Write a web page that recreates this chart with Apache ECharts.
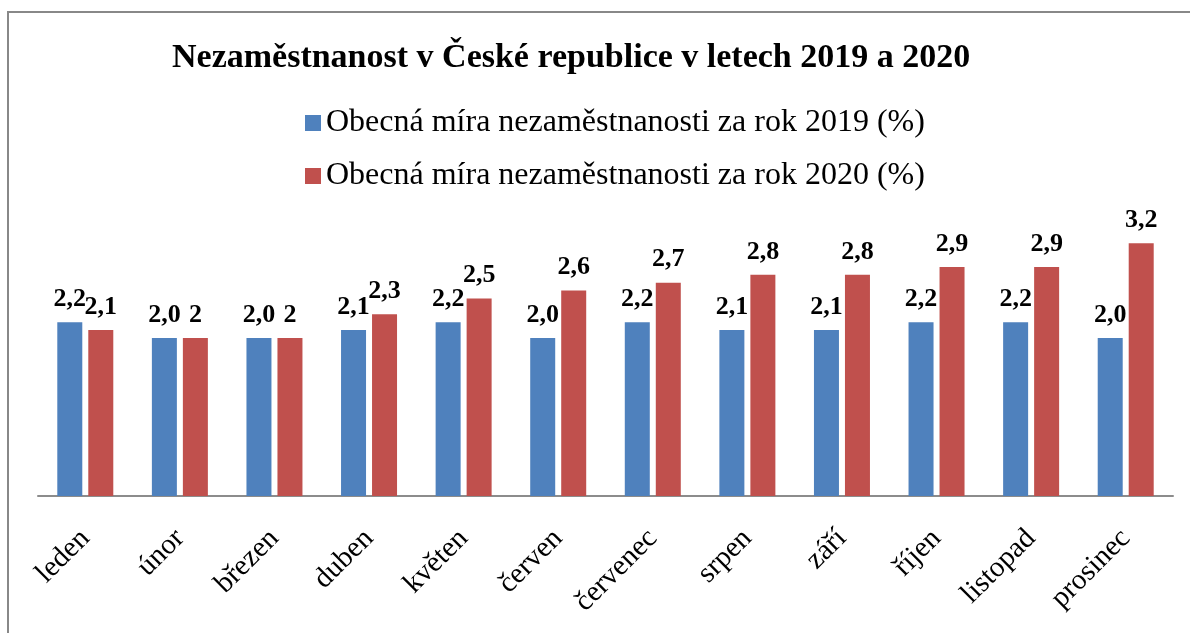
<!DOCTYPE html>
<html>
<head>
<meta charset="utf-8">
<script src="https://cdn.jsdelivr.net/npm/echarts@6/dist/echarts.min.js"></script>
<style>
  html, body { margin: 0; padding: 0; background: #fff; }
  #chart { width: 1190px; height: 633px; }
</style>
</head>
<body>
<div id="chart"></div>
<script>
// data
var months = ['leden', 'únor', 'březen', 'duben', 'květen', 'červen',
  'červenec', 'srpen', 'září', 'říjen', 'listopad', 'prosinec']
var rate2019 = [2.2, 2.0, 2.0, 2.1, 2.2, 2.0, 2.2, 2.1, 2.1, 2.2, 2.2, 2.0]
var rate2020 = [2.1, 2, 2, 2.3, 2.5, 2.6, 2.7, 2.8, 2.8, 2.9, 2.9, 3.2]
var seriesNames = [
  'Obecná míra nezaměstnanosti za rok 2019 (%)',
  'Obecná míra nezaměstnanosti za rok 2020 (%)'
]

var serif = '"Liberation Serif", "Times New Roman", serif'

var chart = echarts.init(document.getElementById('chart'))

var labelStyle = {
  show: true,
  position: 'top',
  distance: 10,
  fontFamily: serif,
  fontWeight: 'bold',
  fontSize: 26,
  color: '#000'
}

var option = {
  animation: false,
  backgroundColor: '#fff',
  title: {
    text: 'Nezaměstnanost v České republice v letech 2019 a 2020',
    left: 167,
    top: 36,
    textStyle: {
      fontFamily: serif,
      fontWeight: 'bold',
      fontSize: 34,
      color: '#000'
    }
  },
  legend: {
    orient: 'vertical',
    left: 300,
    top: 102,
    icon: 'rect',
    itemWidth: 16,
    itemHeight: 16,
    itemGap: 21,
    itemTextGap: 6,
    textStyle: {
      fontFamily: serif,
      fontSize: 32,
      lineHeight: 32,
      color: '#000'
    },
    data: seriesNames
  },
  graphic: [{
    type: 'rect',
    shape: { x: 8, y: 12, width: 1200, height: 700 },
    style: { fill: 'none', stroke: '#888', lineWidth: 2 },
    silent: true
  }],
  grid: {
    left: 38,
    right: 17,
    top: 219.5,
    bottom: 137
  },
  xAxis: {
    type: 'category',
    data: months,
    axisLine: { lineStyle: { color: '#8c8c8c', width: 2 } },
    axisTick: { show: false },
    axisLabel: {
      rotate: 45,
      margin: 38,
      interval: 0,
      fontFamily: serif,
      fontSize: 29,
      color: '#000'
    }
  },
  yAxis: {
    type: 'value',
    min: 0,
    max: 3.5,
    show: false,
    splitLine: { show: false }
  },
  series: [
    {
      name: seriesNames[0],
      type: 'bar',
      data: rate2019,
      barWidth: 25,
      barGap: '24%',
      itemStyle: { color: '#4F81BD' },
      label: Object.assign({}, labelStyle, {
        formatter: function (p) { return p.value.toFixed(1).replace('.', ',') }
      })
    },
    {
      name: seriesNames[1],
      type: 'bar',
      data: rate2020,
      barWidth: 25,
      itemStyle: { color: '#C0504D' },
      label: Object.assign({}, labelStyle, {
        formatter: function (p) { return String(p.value).replace('.', ',') }
      })
    }
  ]
}

chart.setOption(option)
</script>
</body>
</html>
